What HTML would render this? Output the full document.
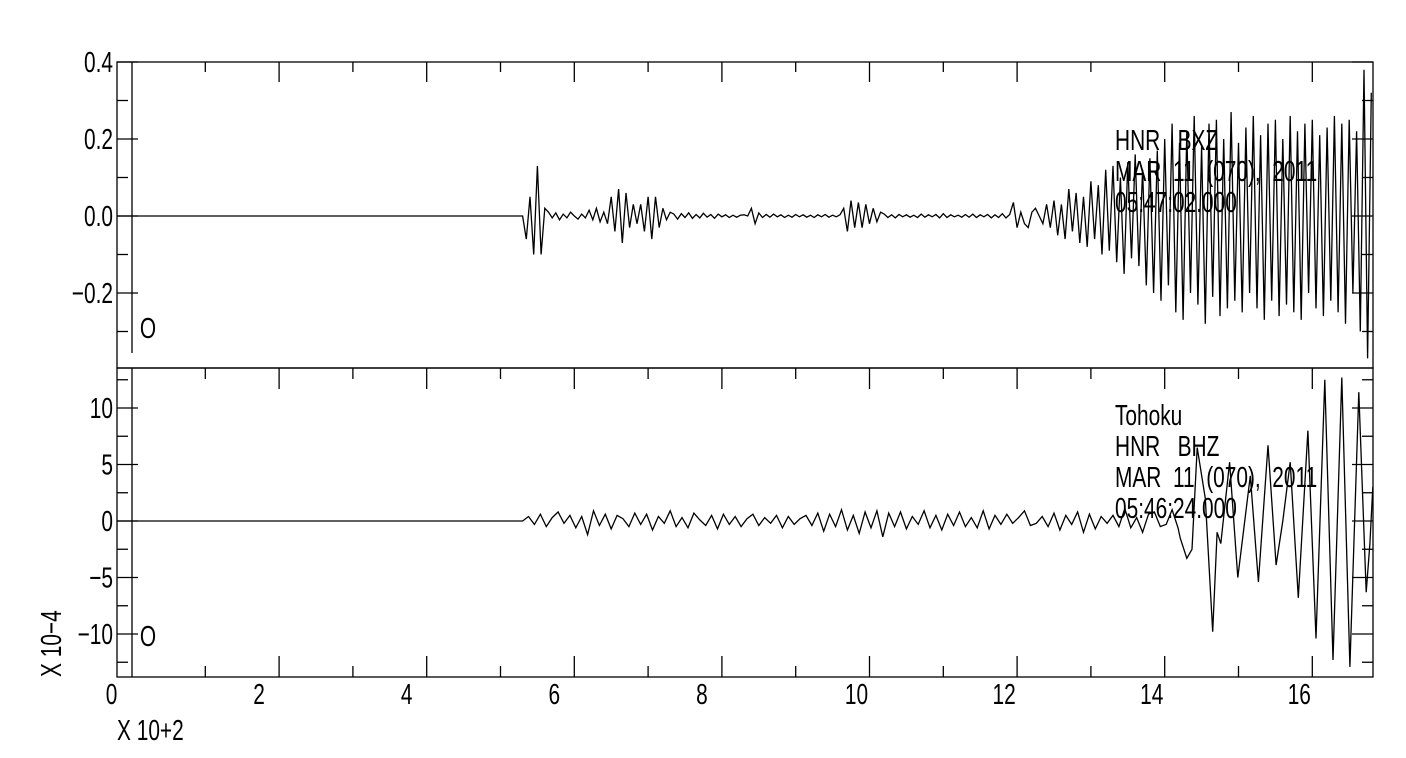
<!DOCTYPE html>
<html><head><meta charset="utf-8">
<style>
html,body{margin:0;padding:0;background:#fff;}
svg{display:block;}
text{font-family:"Liberation Sans",sans-serif;font-size:29px;fill:#000;}
</style></head>
<body>
<svg id="chart" width="1406" height="758" viewBox="0 0 1406 758" xmlns="http://www.w3.org/2000/svg">
<g id="frames"></g>
<g id="ticks"></g>
<g id="labels"></g>
<g id="traces"></g>
<g id="notes"></g>
</svg>
<script>
// ---- data ----
const xTickLabels = [0,2,4,6,8,10,12,14,16];
const topYTicks = [0.4,0.2,0.0,-0.2];
const topYTickText = ["0.4","0.2","0.0","\u22120.2"];
const botYTicks = [10,5,0,-5,-10];
const botYTickText = ["10","5","0","\u22125","\u221210"];
const topStart = 5.3;
const topDt = 0.05;
const topValues = [0,-0.06,0.05,-0.10,0.13,-0.10,0.02,
0.01,-0.005,0.008,-0.01,0.005,-0.005,0.01,0,-0.008,0.005,-0.005,
0.015,-0.01,0.02,-0.015,0.01,-0.02,0.05,-0.04,0.07,-0.07,0.06,-0.03,0.03,-0.02,0.03,-0.04,0.05,-0.06,0.05,-0.03,0.02,-0.01,0.01,
0.005,-0.008,0.006,-0.004,0.008,-0.006,0.004,-0.005,0.007,-0.003,0.004,-0.006,0.005,-0.002,0.003,-0.004,0.002,-0.003,0.002,
0.003,0.0,0.02,-0.02,0.008,-0.004,
0.004,-0.003,0.005,-0.002,0.003,-0.004,0.002,-0.003,0.004,-0.002,0.003,-0.003,0.002,-0.004,0.003,-0.002,0.004,-0.003,0.002,-0.002,0.003,
0.02,-0.04,0.04,-0.03,0.035,-0.03,0.03,-0.02,0.02,-0.015,0.01,
0.005,-0.004,0.003,-0.005,0.004,-0.002,0.003,-0.003,0.002,-0.004,0.005,-0.003,0.003,-0.002,0.004,-0.005,0.006,-0.004,0.003,-0.002,0.002,-0.003,0.004,-0.003,0.005,-0.004,0.003,-0.002,0.004,-0.005,0.003,-0.004,0.006,-0.005,0.004,
0.035,-0.03,0.01,-0.02,-0.03,0.01,0.02,0.0,-0.02,0.03,
-0.03,0.04,-0.05,0.03,-0.06,0.07,-0.04,0.06,-0.07,0.05,-0.08,0.09,-0.06,0.08,
-0.1,0.12,-0.09,0.13,-0.12,0.1,-0.15,0.14,-0.11,0.16,-0.13,0.12,-0.18,0.15,-0.2,0.17,
-0.22,0.2,-0.18,0.24,-0.25,0.19,-0.27,0.22,-0.2,0.26,-0.23,0.18,-0.28,0.24,-0.21,0.25,-0.26,0.2,-0.24,0.27,-0.22,0.19,-0.25,0.23,-0.2,0.26,-0.24,0.21,
-0.27,0.24,-0.22,0.25,-0.26,0.2,-0.23,0.26,-0.25,0.22,-0.27,0.24,-0.2,0.25,-0.24,0.21,-0.26,0.23,-0.22,0.26,-0.25,0.24,-0.28,0.25,-0.2,0.22,
-0.3,0.38,-0.37,0.32];
const botStart = 5.3;
const botDt = 0.08;
const botNoise = [0,0.4,-0.3,0.6,-0.5,0.3,0.8,-0.2,0.5,-0.6,0.4,-1.2,0.9,-0.4,0.6,-0.7,0.5,0.2,-0.5,0.7,
-0.3,0.6,-0.8,0.4,-0.2,0.9,-0.5,0.3,-0.6,0.7,0.1,-0.4,0.5,-0.7,0.6,-0.3,0.4,-0.5,0.2,0.6,
-0.4,0.3,-0.2,0.5,-0.6,0.4,-0.3,0.2,0.5,-0.4,0.7,-0.9,0.6,-0.5,1.0,-0.8,0.5,-1.1,0.8,-0.6,
0.9,-1.4,0.7,-0.5,0.8,-0.7,0.4,-0.3,0.9,-0.6,0.5,-0.8,0.6,-0.4,0.8,-0.5,0.3,-0.6,0.9,-0.7,
0.5,-0.3,0.6,-0.2,0.3,0.9,-0.4,-0.2,0.4,-0.5,0.7,-0.8,0.5,-0.3,0.8,-1.0,0.6,-0.7,0.4,-0.2,
0.5,-0.5,1.1,-0.6,0.3,-1.0,0.6,0.8,-0.5,-0.3,1.0,-0.6];
const botLateT = [14.21,14.30,14.37,14.44,14.55,14.65,14.71,14.76,14.88,14.99,15.16,15.27,15.40,15.51,15.60,15.70,15.81,15.94,16.05,16.17,16.28,16.40,16.51,16.63,16.73,16.78,16.82];
const botLateV = [-1.5,-3.3,-2.5,6.5,2,-9.8,-1,-2,5.2,-5,4,-5.4,6.7,-3.9,0,5.2,-6.8,8,-10.4,12.5,-12.3,12.7,-12.9,11.4,-6.3,-2,3];

// ---- geometry ----
const L=117,R=1373,T1=62,M=368,B=677;
const X0=131.5, XS=73.8;
const xs = t => X0 + t*XS;
const yTop = v => 216 - v*385;
const yBot = v => 521 - v*11.3;
const NS="http://www.w3.org/2000/svg";
function mk(tag, attrs, parent){const e=document.createElementNS(NS,tag);for(const k in attrs)e.setAttribute(k,attrs[k]);parent.appendChild(e);return e;}
const frames=document.getElementById('frames'),ticks=document.getElementById('ticks'),labels=document.getElementById('labels'),traces=document.getElementById('traces'),notes=document.getElementById('notes');
function line(x1,y1,x2,y2,p){return mk('line',{x1,y1,x2,y2,stroke:'#000','stroke-width':1.3},p);}
function txt(x,y,s,anchor,p){const e=mk('text',{transform:`translate(${x},${y}) scale(0.72,1)`,'text-anchor':anchor||'start'},p);e.textContent=s;return e;}

// frames
let f=mk('rect',{x:L,y:T1,width:R-L,height:M-T1,fill:'none',stroke:'#000','stroke-width':1.3},frames);


f=mk('rect',{x:L,y:M,width:R-L,height:B-M,fill:'none',stroke:'#000','stroke-width':1.3},frames);



// x ticks
for(let u=1;u<=16;u++){
  const x=xs(u), major=(u%2===0);
  line(x,T1,x,T1+(major?20:10),ticks);
  line(x,M,x,M+(major?21:11),ticks);
  line(x,B,x,B-(major?21:11),ticks);
}
// y ticks top (0.1 steps)
for(let k=-3;k<=4;k++){const v=k/10,y=yTop(v),major=(k%2===0);line(L,y,L+(major?21:11),y,ticks);line(R,y,R-(major?21:11),y,ticks);}
for(let k=-5;k<=5;k++){const v=k*2.5,y=yBot(v),major=(k%2===0);line(L,y,L+(major?21:11),y,ticks);line(R,y,R-(major?21:11),y,ticks);}

// tick labels
xTickLabels.forEach(u=>{const s=String(u);const e=txt(xs(u)-20+7*(s.length-1),704,s,'middle',labels);

});
topYTicks.forEach((v,i)=>{const e=txt(113,yTop(v)+10,topYTickText[i],'end',labels);

});
botYTicks.forEach((v,i)=>{const e=txt(113,yBot(v)+10,botYTickText[i],'end',labels);

});
let e=txt(117,740,'X  10+2','start',labels);


e=mk('text',{transform:'translate(61,677) rotate(-90) scale(0.72,1)'},labels);e.textContent='X  10\u22124';



// origin markers
e=line(132,T1,132,353,traces);


e=line(132,M,132,B,traces);


txt(148,338,'O','middle',notes);
txt(148,646,'O','middle',notes);

// traces
let pts=[[xs(-0.2),yTop(0)]];
topValues.forEach((v,i)=>pts.push([xs(topStart+i*topDt),yTop(v)]));
e=mk('polyline',{points:pts.map(p=>p[0].toFixed(1)+','+p[1].toFixed(1)).join(' '),fill:'none',stroke:'#000','stroke-width':1.3,'stroke-linejoin':'miter'},traces);


pts=[[xs(-0.2),yBot(0)]];
botNoise.forEach((v,i)=>pts.push([xs(botStart+i*botDt),yBot(v)]));
botLateT.forEach((t,i)=>pts.push([xs(t),yBot(botLateV[i])]));
e=mk('polyline',{points:pts.map(p=>p[0].toFixed(1)+','+p[1].toFixed(1)).join(' '),fill:'none',stroke:'#000','stroke-width':1.3},traces);



// annotations
const topNotes=[['HNR   BXZ',150],['MAR  11  (070),  2011',181],['05:47:02.000',212]];
topNotes.forEach(n=>{const t=txt(1115,n[1],n[0],'start',notes);t.setAttribute('xml:space','preserve');t.style.whiteSpace='pre';

});
const botNotes=[['Tohoku',425],['HNR   BHZ',456],['MAR  11  (070),  2011',487],['05:46:24.000',518]];
botNotes.forEach(n=>{const t=txt(1115,n[1],n[0],'start',notes);t.style.whiteSpace='pre';

});
</script>
</body></html>
